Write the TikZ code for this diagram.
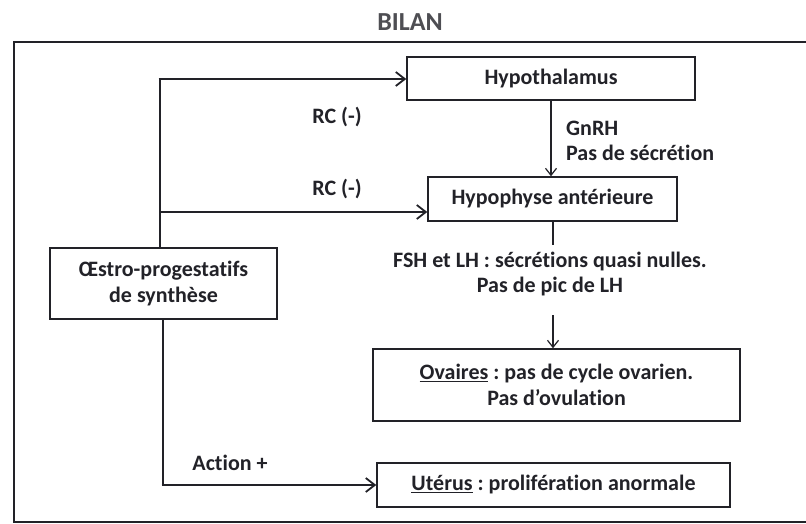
\documentclass[tikz,border=0pt]{standalone}
\usepackage{fontspec}
\setmainfont{Carlito}[Ligatures=NoCommon]
\usetikzlibrary{arrows.meta}
\definecolor{ink}{HTML}{222228}
\frenchspacing
\begin{document}
\begin{tikzpicture}[x=1pt,y=-1pt,
  txt/.style={font=\bfseries\fontsize{22}{26}\selectfont, text=ink, inner sep=0pt},
  boxn/.style={draw=ink, line width=1.5pt, inner sep=0pt, align=center,
    font=\bfseries\fontsize{22}{26}\selectfont, text=ink},
  thick arrow/.style={draw=ink, line width=2.8pt, -{Straight Barb[length=9pt,width=14pt,line width=1.8pt]}},
  thin arrow/.style={draw=ink, line width=1.2pt, -{Straight Barb[length=7pt,width=11pt,line width=1.2pt]}},
  thin line/.style={draw=ink, line width=1.2pt}]
\useasboundingbox (0,0) rectangle (806,524);
\fill[white] (0,0) rectangle (806,524);
% frame
\draw[ink, line width=1.8pt] (806,42) -- (14,42) -- (14,522) -- (806,522);
\node[txt, font=\bfseries\fontsize{26}{30}\selectfont, text=ink!80] (bilan) at (410,22) {BILAN};
% boxes
\node[boxn, minimum width=288pt, minimum height=43pt] (hyp) at (551,78.5) {Hypothalamus};
\node[boxn, minimum width=249pt, minimum height=44pt] (hypo) at (552.5,199) {Hypophyse antérieure};
\node[boxn, minimum width=227pt, minimum height=71pt] (oes) at (163.5,283.5) {Œstro-progestatifs\\de synthèse};
\node[boxn, minimum width=367pt, minimum height=72pt] (ova) at (556.5,385) {\underline{Ovaires} : pas de cycle ovarien.\\Pas d’ovulation};
\node[boxn, minimum width=353pt, minimum height=44pt] (ute) at (553.5,485) {\underline{Utérus} : prolifération anormale};
% labels
\node[txt] (rc1) at (337,117) {RC (-)};
\node[txt] (rc2) at (337,189) {RC (-)};
\node[txt, anchor=west] (gnrh) at (566,128) {GnRH};
\node[txt, anchor=west] (pas) at (566,153) {Pas de sécrétion};
\node[txt] (fsh) at (550,262) {FSH et LH : sécrétions quasi nulles.};
\node[txt] (pic) at (550,287) {Pas de pic de LH};
\node[txt] (act) at (230,463) {Action +};
% coordinates
\coordinate (c1) at (160,79);
\coordinate (c2) at (160,212);
\coordinate (c3) at (163,485);
\coordinate (f1) at (553,245);
\coordinate (f2) at (553,315);
% connectors
\draw[ink, line width=2.8pt] (oes.north -| c1) -- (c1);
\draw[thick arrow] ([xshift=-1.4pt]c1) -- (hyp.west |- c1);
\draw[thick arrow] (c2) -- (hypo.west |- c2);
\draw[thin arrow] (hyp.south) -- (hyp.south |- hypo.north);
\draw[thin line] (hypo.south -| f1) -- (f1);
\draw[thin arrow] (f2) -- (ova.north -| f2);
\draw[ink, line width=2.8pt] (oes.south -| c3) -- (c3);
\draw[thick arrow] ([xshift=-1.4pt]c3) -- (ute.west |- c3);
\end{tikzpicture}
\end{document}
